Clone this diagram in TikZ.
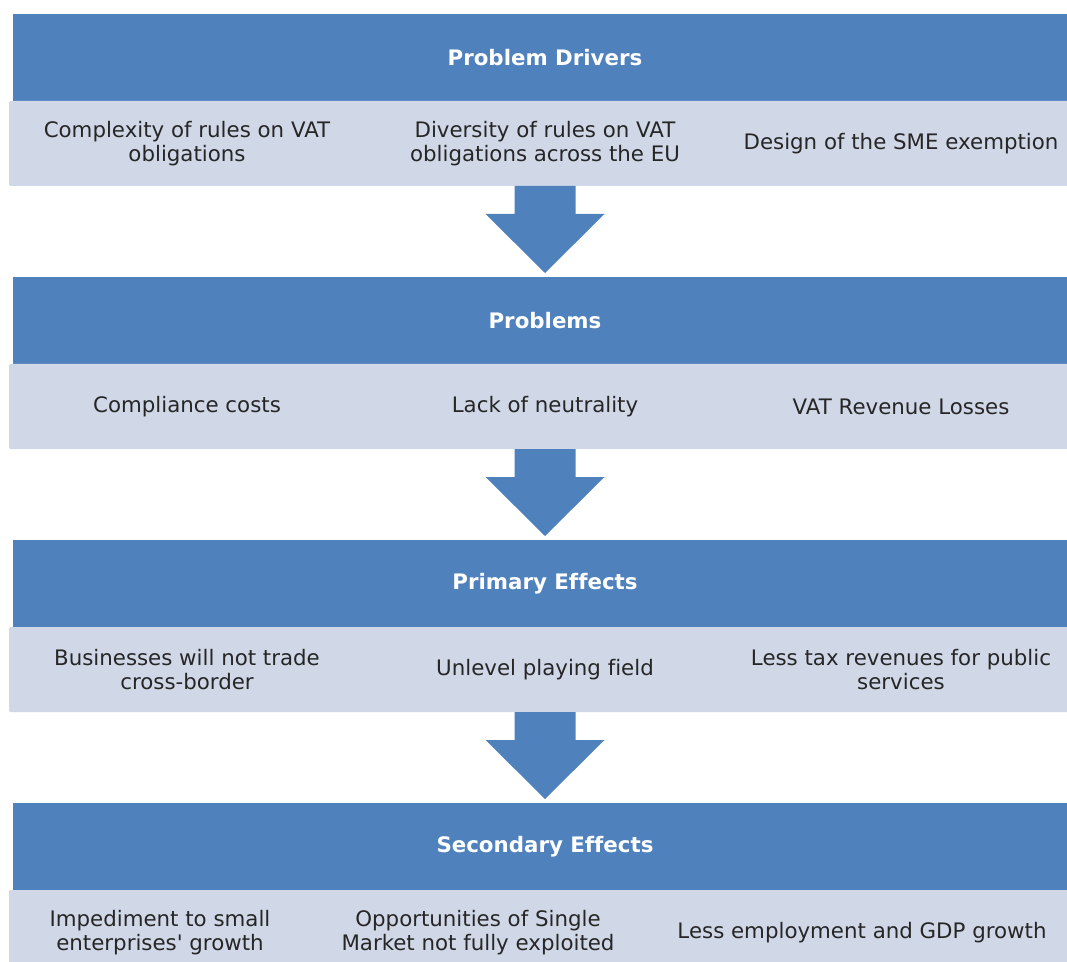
\documentclass[tikz,border=0pt]{standalone}
\usepackage{fontspec}
\setmainfont{DejaVu Sans}[Ligatures=NoCommon]
\usetikzlibrary{positioning, calc}
\usepackage{xcolor}

\definecolor{bandblue}{HTML}{4F81BD}
\definecolor{rowgrey}{HTML}{D0D8E8}
\definecolor{textgrey}{HTML}{262626}

% block arrow from the bottom of one row to the next band
\newcommand{\blockarrow}[2]{%
    \fill[bandblue] ($(#1.south)+(-30.5,0)$) -- ++(0,28) -- ++(-29,0)
        -- ($(#1.south |- #2.north)+(0,-4)$)
        -- ($(#1.south)+(59.5,28)$) -- ++(-29,0)
        -- ($(#1.south)+(30.5,0)$) -- cycle;}

\begin{document}
\begin{tikzpicture}[x=0.75pt, y=-0.75pt, font=\fontsize{16}{18}\selectfont,
    band/.style={fill=bandblue, text=white, font=\fontsize{16}{18}\selectfont\bfseries,
        minimum width=798pt, minimum height=65.25pt, inner sep=0pt, outer sep=0pt},
    row/.style={fill=rowgrey, minimum width=804pt, minimum height=63.75pt,
        inner sep=0pt, outer sep=0pt, rounded corners=1pt},
    cell/.style={text=textgrey, align=center, inner sep=0pt}]
    \useasboundingbox (0,0) rectangle (1067,962);
    \clip (0,0) rectangle (1067,962);

    \node[band] (drivers) at (545,57.5) {Problem Drivers};
    \node[row, below=0pt of drivers] (drivers-row) {};
    \node[band, below=68.25pt of drivers-row] (problems) {Problems};
    \node[row, below=0pt of problems] (problems-row) {};
    \node[band, below=68.25pt of problems-row] (primary) {Primary Effects};
    \node[row, below=0pt of primary] (primary-row) {};
    \node[band, below=68.25pt of primary-row] (secondary) {Secondary Effects};
    \node[row, below=0pt of secondary] (secondary-row) {};

    \node[cell] (complexity) at ($(drivers-row)+(-358,0)$) {Complexity of rules on VAT\\obligations};
    \node[cell] (diversity) at (drivers-row) {Diversity of rules on VAT\\obligations across the EU};
    \node[cell] (design) at ($(drivers-row)+(356,0)$) {Design of the SME exemption};

    \node[cell] (compliance) at ($(problems-row)+(-358,0)$) {Compliance costs};
    \node[cell] (neutrality) at (problems-row) {Lack of neutrality};
    \node[cell] (revenue) at ($(problems-row)+(356,0)$) {VAT Revenue Losses};

    \node[cell] (trade) at ($(primary-row)+(-358,0)$) {Businesses will not trade\\cross-border};
    \node[cell] (field) at (primary-row) {Unlevel playing field};
    \node[cell] (taxes) at ($(primary-row)+(356,0)$) {Less tax revenues for public\\services};

    \node[cell] (growth) at ($(secondary-row)+(-385,0)$) {Impediment to small\\enterprises\textquotesingle{} growth};
    \node[cell] (market) at ($(secondary-row)+(-67,0)$) {Opportunities of Single\\Market not fully exploited};
    \node[cell] (gdp) at ($(secondary-row)+(317,0)$) {Less employment and GDP growth};

    \blockarrow{drivers-row}{problems}
    \blockarrow{problems-row}{primary}
    \blockarrow{primary-row}{secondary}
\end{tikzpicture}
\end{document}
